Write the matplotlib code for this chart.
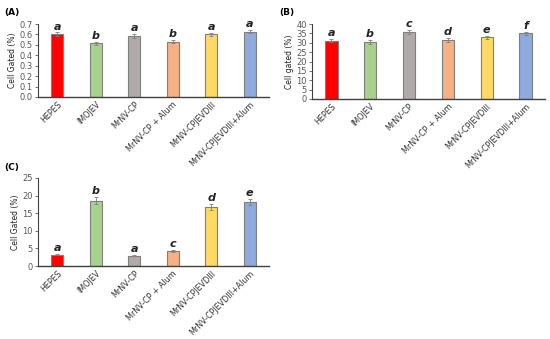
import matplotlib.pyplot as plt
import numpy as np

groups = ["HEPES", "IMOJEV", "MrNV-CP", "MrNV-CP + Alum", "MrNV-CPJEVDIII", "MrNV-CPJEVDIII+Alum"]
colors = ["#FF0000", "#A9D18E", "#AFABAB", "#F4B183", "#FFD966", "#8FAADC"]

vals_a = [0.605, 0.515, 0.588, 0.530, 0.603, 0.625]
err_a = [0.015, 0.015, 0.017, 0.014, 0.015, 0.015]
let_a = ["a", "b", "a", "b", "a", "a"]

vals_b = [31.0, 30.3, 35.6, 31.5, 33.0, 35.0]
err_b = [0.8, 1.0, 1.0, 0.9, 0.8, 0.9]
let_b = ["a", "b", "c", "d", "e", "f"]

vals_c = [3.2, 18.6, 3.0, 4.3, 16.7, 18.2]
err_c = [0.15, 1.0, 0.2, 0.2, 0.8, 0.9]
let_c = ["a", "b", "a", "c", "d", "e"]

fig = plt.figure(figsize=(5.5, 3.39), dpi=100)


def panel(rect, vals, errs, letters, ymax, step, ylabel, tag, tagpos, pad):
    ax = fig.add_axes(rect)
    x = np.arange(len(groups))
    ax.bar(x, vals, width=0.32, color=colors, edgecolor="#7F7F7F", linewidth=0.8,
           yerr=errs, error_kw=dict(ecolor="#7F7F7F", elinewidth=0.6, capsize=1.5, capthick=0.6))
    for xi, v, e, l in zip(x, vals, errs, letters):
        ax.text(xi, v + e + pad, l, ha="center", va="bottom", fontsize=8,
                style="italic", fontweight="bold", color="#222222")
    ax.set_xlim(-0.5, len(groups) - 0.5)
    ax.set_ylim(0, ymax)
    ax.set_yticks(np.arange(0, ymax + step / 2, step))
    ax.set_xticks(x)
    ax.set_xticklabels(groups, rotation=45, ha="right", rotation_mode="anchor",
                       fontsize=5.8, color="#333333")
    ax.tick_params(axis="y", labelsize=6, labelcolor="#595959", length=2, width=0.6, color="#595959", pad=1.5)
    ax.tick_params(axis="x", length=0, pad=2)
    for s in ["top", "right"]:
        ax.spines[s].set_visible(False)
    ax.spines["left"].set_color("#404040")
    ax.spines["left"].set_linewidth(0.8)
    ax.spines["bottom"].set_color("#404040")
    ax.spines["bottom"].set_linewidth(1.0)
    ax.set_ylabel(ylabel, fontsize=5.5, labelpad=2, color="#222222")
    fig.text(tagpos[0], tagpos[1], tag, fontsize=6.5, fontweight="bold", va="center")
    return ax


panel([0.069, 0.714, 0.420, 0.215], vals_a, err_a, let_a, 0.7, 0.1, "Cell Gated (%)", "(A)", (0.008, 0.963), 0.008)
panel([0.567, 0.708, 0.424, 0.221], vals_b, err_b, let_b, 40, 5, "Cell gated (%)", "(B)", (0.507, 0.963), 0.6)
panel([0.069, 0.215, 0.420, 0.260], vals_c, err_c, let_c, 25, 5, "Cell Gated (%)", "(C)", (0.008, 0.505), 0.3)

fig.savefig("out.png", dpi=100)
